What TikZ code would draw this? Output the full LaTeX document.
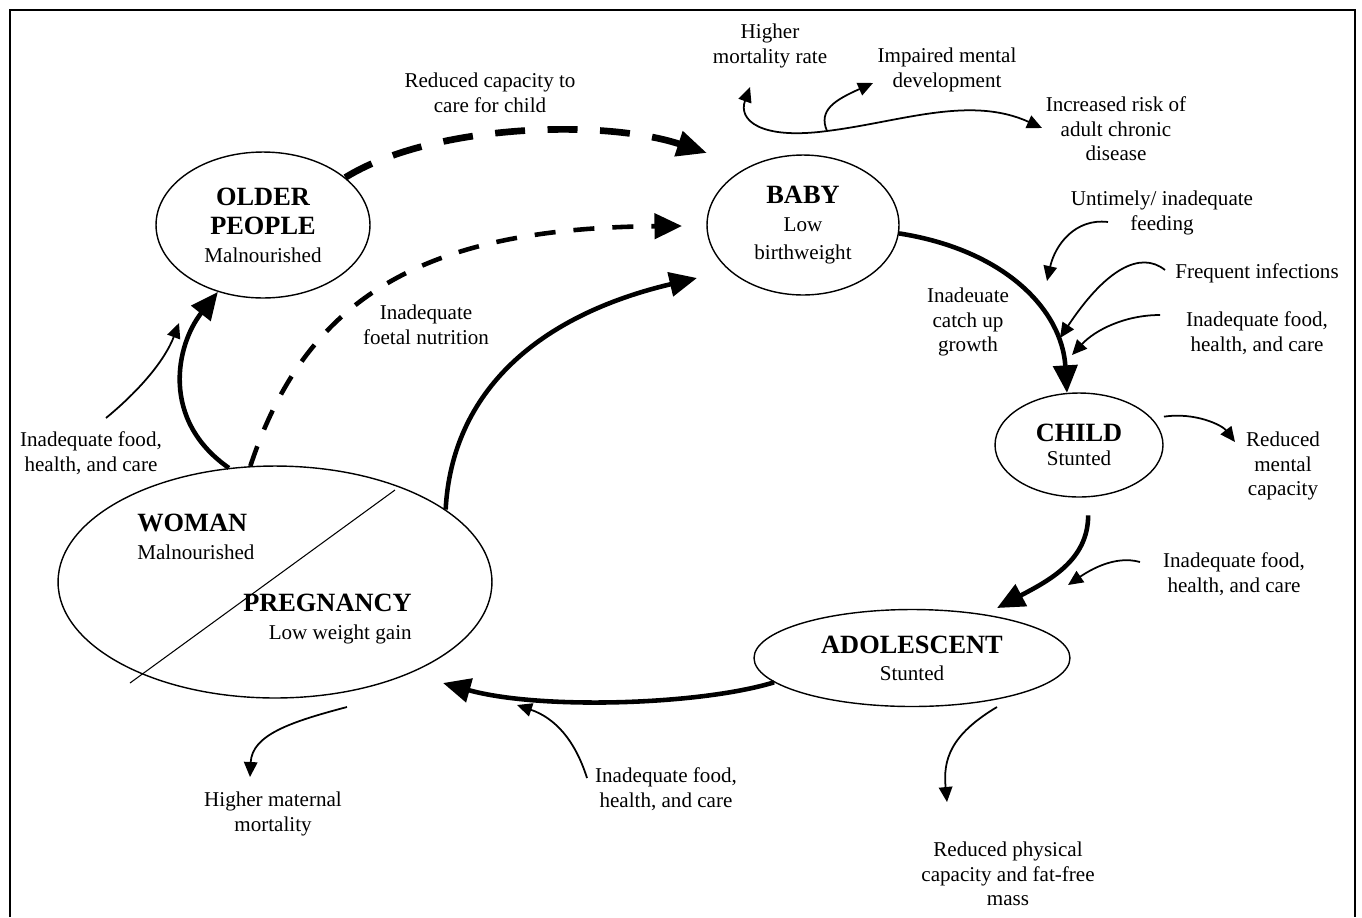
\documentclass[tikz,border=0pt]{standalone}
\usepackage{fontspec}
\setmainfont{Liberation Serif}
\usepackage{xcolor}
\usepackage{tikz}
\usetikzlibrary{arrows.meta, shapes.geometric}

\newcommand{\stagetitle}[1]{{\fontsize{15}{17}\selectfont\bfseries #1}}

\tikzset{
  stage/.style={ellipse, draw, line width=0.8pt, inner sep=0pt, align=center, font=\fontsize{12}{14}\selectfont},
  lbl/.style={align=center, inner sep=0pt, font=\fontsize{12}{14}\selectfont},
  thinarrow/.style={line width=1pt, -{Triangle[length=0.3cm,width=0.27cm]}},
  fatarrow/.style={line width=2.6pt, -{Triangle[length=0.55cm,width=0.48cm]}},
  bigdashed/.style={line width=3.8pt, dash pattern=on 0.6cm off 0.45cm, -{Triangle[length=0.6cm,width=0.5cm]}},
  smalldashed/.style={line width=2.6pt, dash pattern=on 0.42cm off 0.36cm, -{Triangle[length=0.55cm,width=0.5cm]}},
}

\begin{document}
\begin{tikzpicture}[x=0.02cm, y=-0.02cm]
\useasboundingbox (0,0) rectangle (1362,917);
\draw[line width=1.1pt] (10,917) -- (10,10) -- (1355,10) -- (1355,917);

% stages of the cycle
\node[stage, minimum width=4.28cm, minimum height=2.92cm] (older) at (263,225) {\stagetitle{OLDER}\\[3pt]\stagetitle{PEOPLE}\\[1.5pt]Malnourished};
\node[stage, minimum width=3.84cm, minimum height=2.8cm] (baby) at (803,225) {\stagetitle{BABY}\\[2pt]Low\\[1.5pt]birthweight};
\node[stage, minimum width=3.36cm, minimum height=2.08cm] (child) at (1079,445) {\stagetitle{CHILD}\\Stunted};
\node[stage, minimum width=6.32cm, minimum height=1.94cm] (adolescent) at (912,658) {\stagetitle{ADOLESCENT}\\[1.5pt]Stunted};
\node[stage, minimum width=8.68cm, minimum height=4.64cm] (woman) at (275,582) {};
\draw[line width=0.6pt] (130,683) -- (395,490);
\node[lbl, anchor=west, align=left] (womantxt) at (137,537) {\stagetitle{WOMAN}\\[2pt]Malnourished};
\node[lbl, anchor=east, align=right] (pregtxt) at (412,619) {\stagetitle{PREGNANCY}\\[2pt]Low weight gain};

% labels
\node[lbl] (capacity) at (490,93) {Reduced capacity to\\care for child};
\node[lbl] (foetal) at (426,325) {Inadequate\\foetal nutrition};
\node[lbl] (food1) at (91,453) {Inadequate food,\\health, and care};
\node[lbl] (catchup) at (968,322) {Inadeuate\\catch up\\growth};
\node[lbl] (feeding) at (1162,213) {Untimely/ inadequate\\feeding};
\node[lbl] (infect) at (1257,273) {Frequent infections};
\node[lbl] (food2) at (1257,333) {Inadequate food,\\health, and care};
\node[lbl] (mental) at (1283,466) {Reduced\\mental\\capacity};
\node[lbl] (food3) at (1234,574) {Inadequate food,\\health, and care};
\node[lbl] (food4) at (666,789) {Inadequate food,\\health, and care};
\node[lbl] (maternal) at (273,814) {Higher maternal\\mortality};
\node[lbl] (physical) at (1008,874) {Reduced physical\\capacity and fat-free\\mass};
\node[lbl] (mortality) at (770,46) {Higher\\mortality rate};
\node[lbl] (impaired) at (947,70) {Impaired mental\\development};
\node[lbl] (chronic) at (1116,129) {Increased risk of\\adult chronic\\disease};

% free ends
\coordinate (capT) at (707,153);
\coordinate (foetT) at (682,226);
\coordinate (babyT) at (697,278);
\coordinate (adolT) at (997,608);
\coordinate (womanT) at (443,683);
\coordinate (food1S) at (106,418); \coordinate (food1T) at (179,323);
\coordinate (feedS) at (1108,222); \coordinate (feedT) at (1047,281);
\coordinate (infS) at (1165,270); \coordinate (infT) at (1060,338);
\coordinate (food2S) at (1160,315); \coordinate (food2T) at (1072,355);
\coordinate (mentalT) at (1235,442);
\coordinate (food3S) at (1140,562); \coordinate (food3T) at (1068,585);
\coordinate (food4S) at (587,778); \coordinate (food4T) at (517,705);
\coordinate (matS) at (347,707); \coordinate (matT) at (250,777);
\coordinate (physS) at (997,707); \coordinate (physT) at (947,802);
\coordinate (hub) at (827,131);
\coordinate (mortT) at (750,87); \coordinate (impT) at (873,83); \coordinate (chronT) at (1042,128);

% cycle
\draw[bigdashed] (older.30) .. controls (430,125) and (600,118) .. (capT);
\draw[smalldashed] (woman.102) .. controls (305,300) and (420,228) .. (foetT);
\draw[fatarrow] (woman.112) .. controls (160,420) and (176,345) .. (older.236);
\draw[fatarrow] (woman.23) .. controls (452,390) and (540,315) .. (babyT);
\draw[fatarrow] (baby.-5) .. controls (1005,250) and (1062,310) .. (child.103);
\draw[fatarrow, shorten <=0.36cm] (child.-80) .. controls (1088,560) and (1050,580) .. (adolT);
\draw[fatarrow] (adolescent.190) .. controls (700,705) and (540,710) .. (womanT);

% influences and outcomes
\draw[thinarrow] (food1S) .. controls (140,390) and (165,360) .. (food1T);
\draw[thinarrow] (feedS) .. controls (1075,218) and (1055,245) .. (feedT);
\draw[thinarrow] (infS) .. controls (1140,250) and (1105,270) .. (infT);
\draw[thinarrow] (food2S) .. controls (1125,315) and (1095,330) .. (food2T);
\draw[thinarrow, shorten <=0.24cm] (child.20) .. controls (1195,412) and (1222,425) .. (mentalT);
\draw[thinarrow] (food3S) .. controls (1115,555) and (1090,570) .. (food3T);
\draw[thinarrow] (food4S) .. controls (575,740) and (555,718) .. (food4T);
\draw[thinarrow] (matS) .. controls (290,722) and (252,735) .. (matT);
\draw[thinarrow] (physS) .. controls (950,735) and (943,760) .. (physT);
\draw[thinarrow] (hub) .. controls (760,140) and (738,120) .. (mortT);
\draw[thinarrow] (hub) .. controls (818,110) and (835,100) .. (impT);
\draw[thinarrow] (hub) .. controls (900,122) and (970,95) .. (chronT);
\end{tikzpicture}
\end{document}
